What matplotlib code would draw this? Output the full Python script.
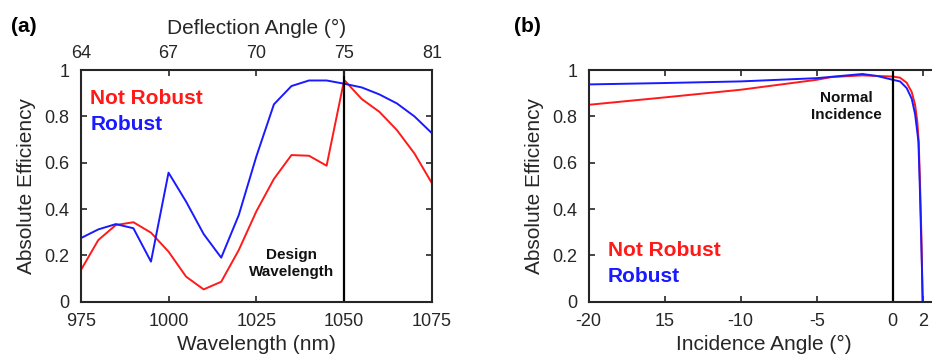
import matplotlib
matplotlib.use("Agg")
import matplotlib.pyplot as plt

plt.rcParams['font.family'] = ['Liberation Sans', 'DejaVu Sans']

# ---- Panel (a) data ----
wavelength_nm = [975, 980, 985, 990, 995, 1000, 1005, 1010, 1015, 1020, 1025,
                 1030, 1035, 1040, 1045, 1050, 1055, 1060, 1065, 1070, 1075]
eff_robust_a = [0.274, 0.312, 0.335, 0.317, 0.173, 0.557, 0.432, 0.292, 0.19, 0.374, 0.627,
                0.852, 0.931, 0.955, 0.955, 0.941, 0.925, 0.895, 0.856, 0.80, 0.727]
eff_notrobust_a = [0.135, 0.266, 0.331, 0.343, 0.298, 0.216, 0.108, 0.053, 0.086, 0.223, 0.39,
                   0.53, 0.633, 0.630, 0.587, 0.957, 0.875, 0.82, 0.741, 0.64, 0.511]
bottom_ticks_a = [975, 1000, 1025, 1050, 1075]
deflection_tick_labels = ['64', '67', '70', '75', '81']
design_wavelength = 1050

# ---- Panel (b) data ----
angle_robust = [-20, -15, -10, -5, -2, -1, 0, 0.48, 0.92, 1.25, 1.47, 1.62, 1.69,
                1.78, 1.86, 1.92, 1.97]
eff_robust_b = [0.938, 0.944, 0.951, 0.965, 0.983, 0.974, 0.958, 0.951, 0.922, 0.876, 0.81,
                0.73, 0.69, 0.5, 0.3, 0.15, 0.0]
angle_notrobust = [-20, -15, -10, -5, -4, -2, 0, 0.48, 0.92, 1.25, 1.47, 1.62, 1.71,
                   1.8, 1.88, 1.94, 1.97]
eff_notrobust_b = [0.85, 0.882, 0.915, 0.958, 0.970, 0.977, 0.972, 0.967, 0.945, 0.905,
                   0.85, 0.776, 0.69, 0.5, 0.3, 0.1, 0.0]
ticks_b = [-20, -15, -10, -5, 0, 2]
tick_labels_b = ['-20', '15', '-10', '-5', '0', '2']
yticks = [0, 0.2, 0.4, 0.6, 0.8, 1.0]
ytick_labels = ['0', '0.2', '0.4', '0.6', '0.8', '1']

RED = '#ff1a1a'
BLUE = '#1a1aff'
SPINE = '#262626'
TXT = '#262626'

fig = plt.figure(figsize=(9.32, 3.6), dpi=100)

def style(ax):
    for s in ax.spines.values():
        s.set_linewidth(1.5)
        s.set_color(SPINE)
    ax.tick_params(direction='in', length=4, width=1.2, color=SPINE,
                   labelsize=13, labelcolor=TXT, top=True, right=True, pad=8)

# Panel (a)
axa = fig.add_axes([0.0866, 0.162, 0.3769, 0.6434])
axa.plot(wavelength_nm, eff_notrobust_a, color=RED, lw=1.4)
axa.plot(wavelength_nm, eff_robust_a, color=BLUE, lw=1.4)
axa.axvline(design_wavelength, color='black', lw=1.6)
axa.set_xlim(975, 1075)
axa.set_ylim(0, 1)
axa.set_xticks(bottom_ticks_a)
axa.set_yticks(yticks)
axa.set_yticklabels(ytick_labels)
style(axa)
axa.set_xlabel('Wavelength (nm)', fontsize=15, color=TXT, labelpad=4)
axa.set_ylabel('Absolute Efficiency', fontsize=15, color=TXT, labelpad=6)
top = axa.twiny()
top.set_xlim(975, 1075)
top.set_xticks(bottom_ticks_a)
top.set_xticklabels(deflection_tick_labels)
top.tick_params(direction='in', length=4, width=1.2, color=SPINE,
                labelsize=13, labelcolor=TXT, pad=6)
for s in top.spines.values():
    s.set_visible(False)
top.set_xlabel('Deflection Angle (°)', fontsize=15, color=TXT, labelpad=8)
axa.text(1034.9, 0.165, 'Design\nWavelength', ha='center', va='center',
         fontsize=11, fontweight='bold', color='#111111', linespacing=1.3)
axa.text(977.7, 0.876, 'Not Robust', color=RED, fontsize=15, fontweight='bold',
         ha='left', va='center')
axa.text(977.7, 0.766, 'Robust', color=BLUE, fontsize=15, fontweight='bold',
         ha='left', va='center')
fig.text(0.012, 0.925, '(a)', fontsize=15, fontweight='bold', ha='left', va='center')

# Panel (b)
axb = fig.add_axes([0.6317, 0.162, 0.3751, 0.6434])
axb.plot(angle_notrobust, eff_notrobust_b, color=RED, lw=1.4)
axb.plot(angle_robust, eff_robust_b, color=BLUE, lw=1.4)
axb.axvline(0, color='black', lw=1.6)
axb.set_xlim(-20, 3)
axb.set_ylim(0, 1)
axb.set_xticks(ticks_b)
axb.set_xticklabels(tick_labels_b)
axb.set_yticks(yticks)
axb.set_yticklabels(ytick_labels)
style(axb)
axb.set_xlabel('Incidence Angle (°)', fontsize=15, color=TXT, labelpad=4)
axb.set_ylabel('Absolute Efficiency', fontsize=15, color=TXT, labelpad=6)
axb.text(-3.07, 0.842, 'Normal\nIncidence', ha='center', va='center',
         fontsize=11, fontweight='bold', color='#111111', linespacing=1.3)
axb.text(-18.75, 0.219, 'Not Robust', color=RED, fontsize=15, fontweight='bold',
         ha='left', va='center')
axb.text(-18.75, 0.107, 'Robust', color=BLUE, fontsize=15, fontweight='bold',
         ha='left', va='center')
fig.text(0.551, 0.925, '(b)', fontsize=15, fontweight='bold', ha='left', va='center')

fig.savefig('out.png', dpi=100)
